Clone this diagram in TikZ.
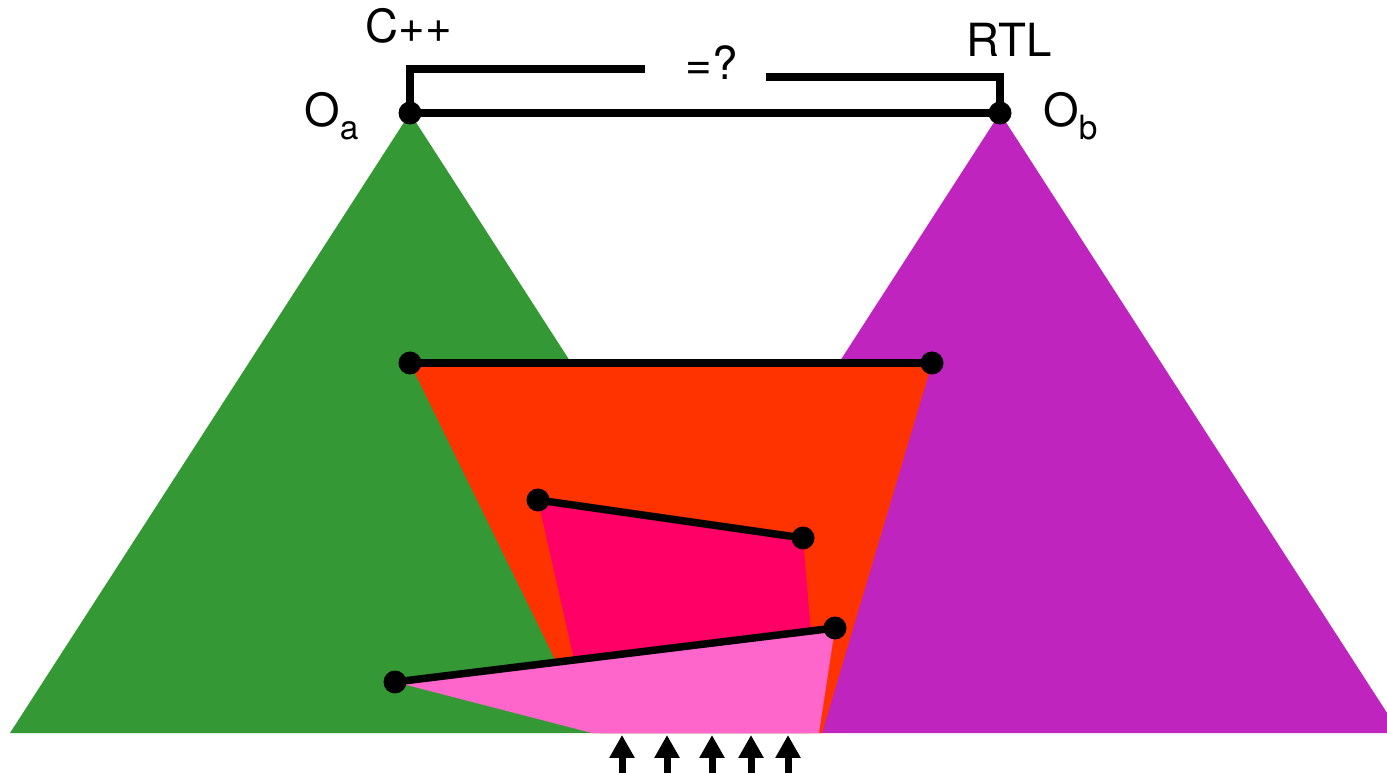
\documentclass[tikz,border=0pt]{standalone}
\usepackage{fontspec}
\setmainfont{TeX Gyre Heros}
\usetikzlibrary{arrows.meta, positioning}
\definecolor{leafgreen}{RGB}{52,153,52}
\definecolor{leafpurple}{RGB}{191,36,191}
\definecolor{conered}{RGB}{255,51,0}
\definecolor{conemagenta}{RGB}{255,0,102}
\definecolor{conepink}{RGB}{255,102,204}
\tikzset{
  dot/.style={circle, fill=black, inner sep=0pt, minimum size=0.46cm},
  wire/.style={line width=0.15cm},
  lbl/.style={inner sep=0pt, font=\fontsize{26}{30}\selectfont},
  inarr/.style={-{Triangle[length=0.46cm, width=0.48cm]}, line width=0.14cm},
}
\newcommand{\subtxt}[1]{\raisebox{-7.4pt}{\fontsize{19}{20}\selectfont #1}}

\begin{document}
\begin{tikzpicture}[x=0.02cm, y=-0.02cm]
    \useasboundingbox (0,0) rectangle (1387,773);
    % the two cones
    \fill[leafgreen] (410,113) -- (10,733) -- (810,733) -- cycle;
    \fill[leafpurple] (1000,113) -- (600,733) -- (1400,733) -- cycle;
    \fill[conered] (410,363) -- (932,363) -- (822,733) -- (591,733) -- cycle;
    \fill[conemagenta] (538,500) -- (803,538) -- (812,645) -- (575,664) -- cycle;
    \fill[conepink] (395,682) -- (835,628) -- (819,733) -- (592,733) -- cycle;
    % points
    \node[dot] (oa) at (410,113) {};
    \node[dot] (ob) at (1000,113) {};
    \node[dot] (ul) at (410,363) {};
    \node[dot] (ur) at (932,363) {};
    \node[dot] (ml) at (538,500) {};
    \node[dot] (mr) at (803,538) {};
    \node[dot] (ll) at (395,682) {};
    \node[dot] (lr) at (835,628) {};
    \draw[wire] (oa.center) -- (ob.center);
    \draw[wire] (ul.center) -- (ur.center);
    \draw[wire] (ml.center) -- (mr.center);
    \draw[wire] (ll.center) -- (lr.center);
    % comparison bracket
    \coordinate (eqleft) at (645,69);
    \coordinate (eqright) at (766,77);
    \draw[wire] (oa.center) |- (eqleft);
    \draw[wire] (ob.center) |- (eqright);
    \node[lbl, anchor=base] (eq) at (712,80) {=?};
    \node[lbl, anchor=base] (cpp) at (409,43) {C++};
    \node[lbl, anchor=base] (rtl) at (1009,57) {RTL};
    \node[lbl, anchor=base west] (oalabel) at (304,127) {O\subtxt{a}};
    \node[lbl, anchor=base west] (oblabel) at (1043,127) {O\subtxt{b}};
    % inputs
    \foreach \x [count=\i] in {622, 667, 712, 751, 788} {
      \coordinate (in\i) at (\x,773);
      \coordinate (tip\i) at (\x,735);
      \draw[inarr] (in\i) -- (tip\i);
    }
  \end{tikzpicture}
\end{document}
